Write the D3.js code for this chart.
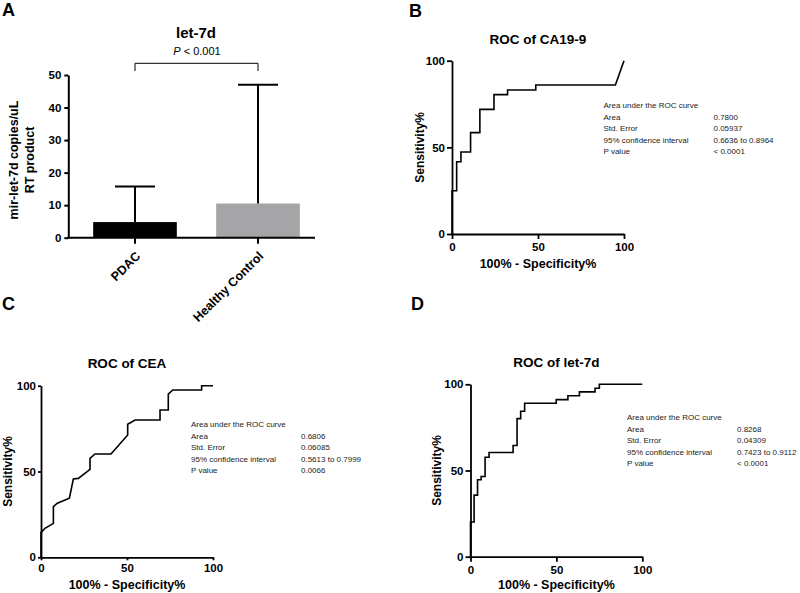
<!DOCTYPE html>
<html><head><meta charset="utf-8">
<script src="https://cdn.jsdelivr.net/npm/d3@7"></script>
<style>
body{margin:0;background:#fff;}
svg{display:block;font-family:Arial,"Liberation Sans",sans-serif;}
</style></head><body>
<svg id="chart" width="800" height="593"></svg>
<script>
// ---------- data ----------
const barCategories = ["PDAC", "Healthy Control"];
const barMeans = [4.8, 10.5];
const barErrUpper = [15.7, 47];
const barColors = ["#000000", "#a5a5a8"];
const barYTicks = [0, 10, 20, 30, 40, 50];

const rocTicks = [0, 50, 100];
const tableLabels = ["Area", "Std. Error", "95% confidence interval", "P value"];

const ca199Fpr = [0, 0, 2.7, 2.7, 5.2, 5.2, 10.8, 10.8, 16.2, 16.2, 24.4, 24.4, 32.3, 32.3, 48.7, 48.7, 95, 100];
const ca199Tpr = [0, 25, 25, 41.7, 41.7, 47.3, 47.3, 58.5, 58.5, 71.9, 71.9, 80.4, 80.4, 83.1, 83.1, 86, 86, 100];
const ca199Table = ["0.7800", "0.05937", "0.6636 to 0.8964", "< 0.0001"];

const ceaFpr = [0, 0, 2.3, 7.2, 7.2, 9.5, 16.5, 18.8, 21.7, 28.5, 28.5, 31.4, 40.7, 50.4, 50.4, 54.7, 69.2, 69.2, 74, 74, 76.6, 93.4, 93.4, 100];
const ceaTpr = [0, 14.4, 16.9, 19.8, 29.5, 31.5, 34.4, 45.6, 46, 51.3, 57.7, 60.2, 60.2, 71.3, 77.5, 80, 80, 85.8, 85.8, 95.1, 97.5, 97.5, 100, 100];
const ceaTable = ["0.6806", "0.06085", "0.5613 to 0.7999", "0.0066"];

const let7dFpr = [0, 0, 2.1, 2.1, 4.1, 4.1, 6.2, 6.2, 8.5, 8.5, 10.8, 10.8, 24.8, 24.8, 27.1, 27.1, 29.2, 29.2, 31.5, 31.5, 49.9, 49.9, 56.7, 56.7, 63.4, 63.4, 72.5, 72.5, 75, 75, 100];
const let7dTpr = [0, 20.1, 20.1, 35.7, 35.7, 44.6, 44.6, 46.5, 46.5, 57.7, 57.7, 60.4, 60.4, 64.5, 64.5, 80.1, 80.1, 84.4, 84.4, 89, 89, 91.1, 91.1, 93.4, 93.4, 95.6, 95.6, 97.7, 97.7, 100, 100];
const let7dTable = ["0.8268", "0.04309", "0.7423 to 0.9112", "< 0.0001"];

// ---------- drawing ----------
const svg = d3.select("#chart");

function panelLetter(t, x, y) {
  svg.append("text").attr("x", x).attr("y", y).attr("font-size", 18).attr("font-weight", "bold").text(t);
}

// ----- Panel A -----
(function () {
  const g = svg.append("g");
  const x = d3.scaleBand().domain(barCategories).range([73.5, 319.5]).paddingInner(0.32).paddingOuter(0.16);
  const y = d3.scaleLinear().domain([0, 50]).range([237.7, 75]);
  const cx = d => x(d) + x.bandwidth() / 2;

  g.selectAll("rect.bar").data(barCategories).join("rect")
    .attr("x", d => x(d)).attr("width", x.bandwidth())
    .attr("y", (d, i) => y(barMeans[i])).attr("height", (d, i) => y(0) - y(barMeans[i]))
    .attr("fill", (d, i) => barColors[i]);

  barCategories.forEach((d, i) => {
    g.append("line").attr("x1", cx(d)).attr("x2", cx(d)).attr("y1", y(barMeans[i])).attr("y2", y(barErrUpper[i]))
      .attr("stroke", "#000").attr("stroke-width", 2);
    g.append("line").attr("x1", cx(d) - 20).attr("x2", cx(d) + 20).attr("y1", y(barErrUpper[i])).attr("y2", y(barErrUpper[i]))
      .attr("stroke", "#000").attr("stroke-width", 2);
  });

  const yAx = g.append("g").attr("transform", "translate(68.3,0)")
    .call(d3.axisLeft(y).tickValues(barYTicks).tickSize(4).tickPadding(3).tickSizeOuter(0));
  yAx.selectAll("path,line").attr("stroke", "#000").attr("stroke-width", 2);
  yAx.selectAll("text").attr("font-size", 11.5).attr("font-weight", "bold").attr("font-family", "Arial,'Liberation Sans',sans-serif").attr("fill", "#000");

  const xAx = g.append("g").attr("transform", "translate(0,237.7)")
    .call(d3.axisBottom(x).tickSize(6).tickSizeOuter(0));
  xAx.select("path.domain").attr("d", "M67.3,0H315");
  xAx.selectAll("path,line").attr("stroke", "#000").attr("stroke-width", 2);
  xAx.selectAll("text").attr("font-size", 12.5).attr("font-weight", "bold").attr("font-family", "Arial,'Liberation Sans',sans-serif").attr("fill", "#000")
    .attr("text-anchor", "end").attr("transform", "translate(3,16) rotate(-45)").attr("dy", "0.35em").attr("y", 0).attr("x", 0);

  g.append("text").attr("x", 196).attr("y", 37.5).attr("text-anchor", "middle").attr("font-size", 15).attr("font-weight", "bold").text("let-7d");
  const pt = g.append("text").attr("x", 197).attr("y", 55).attr("text-anchor", "middle").attr("font-size", 11);
  pt.append("tspan").attr("font-style", "italic").text("P");
  pt.append("tspan").text(" < 0.001");
  g.append("path").attr("d", `M${cx(barCategories[0])},71V63.3H${cx(barCategories[1])}V71`).attr("fill", "none").attr("stroke", "#000").attr("stroke-width", 1);

  const yl = g.append("text").attr("transform", "translate(0,160) rotate(-90)").attr("text-anchor", "middle").attr("font-size", 12.5).attr("font-weight", "bold");
  yl.append("tspan").attr("x", 0).attr("y", 18).text("mir-let-7d copies/uL");
  yl.append("tspan").attr("x", 0).attr("y", 34).text("RT product");
})();

// ----- ROC panel helper -----
function rocPanel(cfg) {
  const g = svg.append("g");
  const x = d3.scaleLinear().domain([0, 100]).range([cfg.x0, cfg.x1]);
  const y = d3.scaleLinear().domain([0, 100]).range([cfg.y0, cfg.y1]);

  const line = d3.line().x(d => x(d[0])).y(d => y(d[1]));
  const pts = cfg.fpr.map((v, i) => [v, cfg.tpr[i]]);
  g.append("path").datum(pts).attr("d", line).attr("fill", "none").attr("stroke", "#000").attr("stroke-width", 1.6).attr("stroke-linejoin", "miter");

  const yAx = g.append("g").attr("transform", `translate(${cfg.x0},0)`)
    .call(d3.axisLeft(y).tickValues(rocTicks).tickSize(cfg.tick).tickPadding(2).tickSizeOuter(0));
  const xAx = g.append("g").attr("transform", `translate(0,${cfg.y0})`)
    .call(d3.axisBottom(x).tickValues(rocTicks).tickSize(cfg.tick).tickPadding(4).tickSizeOuter(0));
  [yAx, xAx].forEach(a => {
    a.selectAll("path,line").attr("stroke", "#000").attr("stroke-width", 1.8);
    a.selectAll("text").attr("font-size", 11.5).attr("font-weight", "bold").attr("font-family", "Arial,'Liberation Sans',sans-serif").attr("fill", "#000");
  });

  const mid = (cfg.x0 + cfg.x1) / 2;
  g.append("text").attr("x", mid).attr("y", cfg.titleY).attr("text-anchor", "middle").attr("font-size", 13.5).attr("font-weight", "bold").text(cfg.title);
  g.append("text").attr("x", mid).attr("y", cfg.xlabY).attr("text-anchor", "middle").attr("font-size", 12.5).attr("font-weight", "bold").text("100% - Specificity%");
  g.append("text").attr("transform", `translate(${cfg.ylabX},${(cfg.y0 + cfg.y1) / 2}) rotate(-90)`).attr("text-anchor", "middle")
    .attr("font-size", 12).attr("font-weight", "bold").text("Sensitivity%");

  const tg = g.append("g").attr("font-size", 8).attr("fill", "#222");
  tg.append("text").attr("x", cfg.tx).attr("y", cfg.ty).text("Area under the ROC curve");
  tableLabels.forEach((l, i) => {
    tg.append("text").attr("x", cfg.tx).attr("y", cfg.ty + (i + 1) * 11.5).text(l);
    tg.append("text").attr("x", cfg.tx + 110).attr("y", cfg.ty + (i + 1) * 11.5).text(cfg.table[i]);
  });
}

rocPanel({ x0: 452, x1: 624, y0: 234, y1: 60.7, tick: 5, fpr: ca199Fpr, tpr: ca199Tpr, title: "ROC of CA19-9",
  titleY: 43.5, xlabY: 268, ylabX: 424, tx: 603.5, ty: 108, table: ca199Table });
rocPanel({ x0: 41, x1: 213, y0: 557.3, y1: 385.7, tick: 3, fpr: ceaFpr, tpr: ceaTpr, title: "ROC of CEA",
  titleY: 368, xlabY: 589, ylabX: 12, tx: 191, ty: 427, table: ceaTable });
rocPanel({ x0: 470.5, x1: 642.3, y0: 556.7, y1: 384.3, tick: 5, fpr: let7dFpr, tpr: let7dTpr, title: "ROC of let-7d",
  titleY: 367, xlabY: 589, ylabX: 441, tx: 627, ty: 420, table: let7dTable });

panelLetter("A", 2, 16);
panelLetter("B", 409, 17);
panelLetter("C", 2, 310);
panelLetter("D", 411, 310);
</script>
</body></html>
